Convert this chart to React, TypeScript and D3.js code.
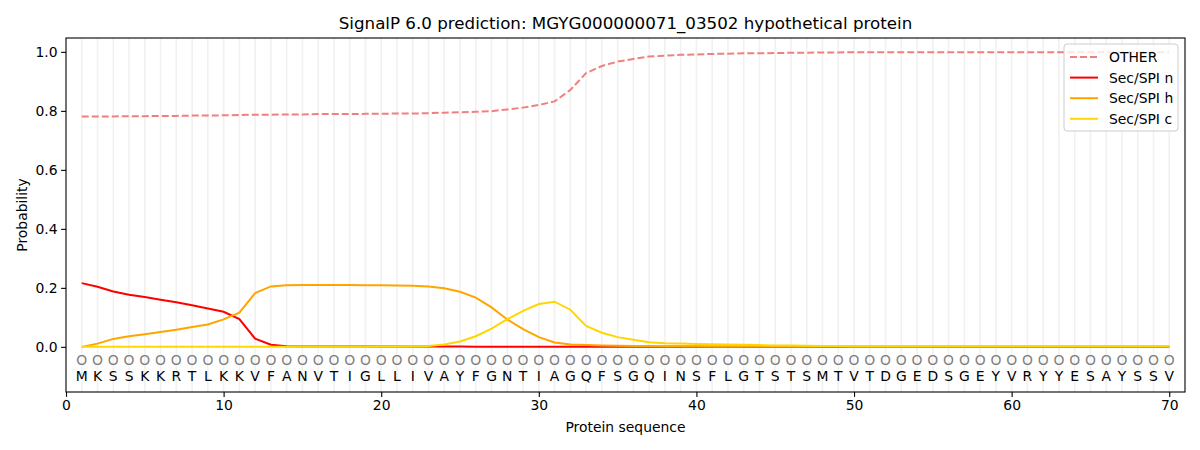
import React, { useEffect, useRef } from 'react';
import * as d3 from 'd3';

const residues = 'MKSSKKRTLKKVFANVTIGLLIVAYFGNTIAGQFSGQINSFLGTSTSMTVTDGEDSGEYVRYYESAYSSV'.split('');

const otherProb = [
  0.781, 0.781, 0.781, 0.782, 0.782, 0.783, 0.783, 0.784, 0.784, 0.785,
  0.786, 0.787, 0.787, 0.788, 0.788, 0.789, 0.789, 0.789, 0.790, 0.790,
  0.791, 0.791, 0.792, 0.794, 0.795, 0.797, 0.799, 0.805, 0.811, 0.820,
  0.832, 0.871, 0.928, 0.952, 0.967, 0.976, 0.984, 0.987, 0.990, 0.991,
  0.993, 0.994, 0.995, 0.995, 0.996, 0.997, 0.997, 0.998, 0.998, 0.999,
  0.999, 0.999, 0.999, 0.999, 0.999, 0.999, 0.999, 0.999, 0.999, 0.999,
  0.999, 0.999, 0.999, 0.999, 0.999, 0.999, 0.999, 0.999, 0.999, 0.999,
];

const secN = [
  0.216, 0.204, 0.188, 0.177, 0.169, 0.160, 0.151, 0.141, 0.130, 0.119,
  0.094, 0.028, 0.007, 0.002, 0.001, 0.001, 0.001, 0.001, 0.001, 0.001,
  0.001, 0.001, 0.001, 0.001, 0.001, 0.000, 0.000, 0.000, 0.000, 0.000,
  0.000, 0.000, 0.000, 0.000, 0.000, 0.000, 0.000, 0.000, 0.000, 0.000,
  0.000, 0.000, 0.000, 0.000, 0.000, 0.000, 0.000, 0.000, 0.000, 0.000,
  0.000, 0.000, 0.000, 0.000, 0.000, 0.000, 0.000, 0.000, 0.000, 0.000,
  0.000, 0.000, 0.000, 0.000, 0.000, 0.000, 0.000, 0.000, 0.000, 0.000,
];

const secH = [
  0.000, 0.011, 0.027, 0.036, 0.043, 0.050, 0.058, 0.067, 0.076, 0.093,
  0.116, 0.182, 0.205, 0.209, 0.210, 0.210, 0.210, 0.210, 0.209, 0.209,
  0.208, 0.207, 0.205, 0.199, 0.187, 0.167, 0.134, 0.093, 0.060, 0.033,
  0.015, 0.008, 0.006, 0.005, 0.004, 0.003, 0.003, 0.002, 0.002, 0.002,
  0.001, 0.001, 0.001, 0.001, 0.001, 0.001, 0.001, 0.001, 0.001, 0.001,
  0.001, 0.001, 0.001, 0.001, 0.001, 0.001, 0.001, 0.001, 0.001, 0.001,
  0.001, 0.001, 0.001, 0.001, 0.001, 0.001, 0.001, 0.001, 0.001, 0.001,
];

const secC = [
  0.000, 0.000, 0.000, 0.000, 0.000, 0.000, 0.000, 0.000, 0.000, 0.000,
  0.000, 0.000, 0.000, 0.000, 0.000, 0.000, 0.000, 0.000, 0.000, 0.001,
  0.001, 0.002, 0.003, 0.008, 0.018, 0.036, 0.062, 0.094, 0.122, 0.145,
  0.153, 0.126, 0.071, 0.048, 0.033, 0.024, 0.016, 0.012, 0.011, 0.010,
  0.009, 0.008, 0.007, 0.006, 0.005, 0.005, 0.004, 0.003, 0.003, 0.002,
  0.002, 0.002, 0.002, 0.002, 0.002, 0.002, 0.002, 0.002, 0.002, 0.002,
  0.002, 0.002, 0.002, 0.002, 0.002, 0.002, 0.002, 0.002, 0.002, 0.002,
];

const xTicks = [0, 10, 20, 30, 40, 50, 60, 70];
const yTicks = [0, 0.2, 0.4, 0.6, 0.8, 1.0];

const series = [
  { label: 'OTHER', values: otherProb, color: '#f08080', dash: '7,3' },
  { label: 'Sec/SPI n', values: secN, color: '#ff0000', dash: null },
  { label: 'Sec/SPI h', values: secH, color: '#ffa500', dash: null },
  { label: 'Sec/SPI c', values: secC, color: '#ffd700', dash: null },
];

const FONT = '"DejaVu Sans", sans-serif';

export default function App() {
  const svgRef = useRef<SVGSVGElement>(null);
  const width = 1200;
  const height = 450;

  useEffect(() => {
    const svg = d3.select(svgRef.current);
    svg.selectAll('*').remove();

    const margin = { top: 38, right: 15, bottom: 58, left: 66 };
    const innerWidth = width - margin.left - margin.right;
    const innerHeight = height - margin.top - margin.bottom;

    svg.append('rect').attr('width', width).attr('height', height).attr('fill', '#fff');

    const g = svg.append('g').attr('transform', `translate(${margin.left},${margin.top})`);

    const xScale = d3.scaleLinear().domain([0, 71]).range([0, innerWidth]);
    const yScale = d3.scaleLinear().domain([-0.153, 1.047]).range([innerHeight, 0]);

    // Vertical grid at each residue
    g.selectAll('.grid-x')
      .data(residues)
      .enter()
      .append('line')
      .attr('x1', (d, i) => xScale(i + 1))
      .attr('x2', (d, i) => xScale(i + 1))
      .attr('y1', 0)
      .attr('y2', innerHeight)
      .style('stroke', '#f1f1f1')
      .style('stroke-width', 1.6);

    // Lines
    const line = d3
      .line<number>()
      .x((d, i) => xScale(i + 1))
      .y(d => yScale(d));

    series.forEach(s => {
      g.append('path')
        .datum(s.values)
        .attr('d', line)
        .style('fill', 'none')
        .style('stroke', s.color)
        .style('stroke-width', 2)
        .style('stroke-dasharray', s.dash ?? 'none');
    });

    // Residue markers and letters
    g.selectAll('.res-o')
      .data(residues)
      .enter()
      .append('text')
      .attr('x', (d, i) => xScale(i + 1))
      .attr('y', yScale(-0.045))
      .attr('dy', '0.36em')
      .attr('text-anchor', 'middle')
      .style('font-family', FONT)
      .style('font-size', '13.9px')
      .style('fill', '#808080')
      .text('O');

    g.selectAll('.res-letter')
      .data(residues)
      .enter()
      .append('text')
      .attr('x', (d, i) => xScale(i + 1))
      .attr('y', yScale(-0.1))
      .attr('dy', '0.36em')
      .attr('text-anchor', 'middle')
      .style('font-family', FONT)
      .style('font-size', '13.9px')
      .style('fill', '#000')
      .text(d => d);

    // Axes frame
    g.append('rect')
      .attr('width', innerWidth)
      .attr('height', innerHeight)
      .style('fill', 'none')
      .style('stroke', '#000')
      .style('stroke-width', 1.1);

    const xAxis = g
      .append('g')
      .attr('transform', `translate(0,${innerHeight})`)
      .call(d3.axisBottom(xScale).tickValues(xTicks).tickSize(4.9).tickPadding(3.5).tickFormat(d3.format('d')));
    xAxis.select('.domain').remove();
    xAxis.selectAll('line').style('stroke-width', 1.1);
    xAxis.selectAll('text').style('font-size', '13.9px').style('font-family', FONT).style('fill', '#000');

    const yAxis = g
      .append('g')
      .call(d3.axisLeft(yScale).tickValues(yTicks).tickSize(4.9).tickPadding(3.5).tickFormat(d3.format('.1f')));
    yAxis.select('.domain').remove();
    yAxis.selectAll('line').style('stroke-width', 1.1);
    yAxis.selectAll('text').style('font-size', '13.9px').style('font-family', FONT).style('fill', '#000');

    // Labels
    svg.append('text')
      .attr('x', margin.left + innerWidth / 2)
      .attr('y', 29)
      .attr('text-anchor', 'middle')
      .style('font-family', FONT)
      .style('font-size', '16.7px')
      .text('SignalP 6.0 prediction: MGYG000000071_03502 hypothetical protein');

    svg.append('text')
      .attr('x', margin.left + innerWidth / 2)
      .attr('y', 432)
      .attr('text-anchor', 'middle')
      .style('font-family', FONT)
      .style('font-size', '13.9px')
      .text('Protein sequence');

    svg.append('text')
      .attr('transform', `translate(27,${margin.top + innerHeight / 2}) rotate(-90)`)
      .attr('text-anchor', 'middle')
      .style('font-family', FONT)
      .style('font-size', '13.9px')
      .text('Probability');

    // Legend
    const legend = svg.append('g').attr('transform', `translate(${width - margin.right - 121},${margin.top + 6})`);
    legend.append('rect')
      .attr('width', 114)
      .attr('height', 87)
      .attr('rx', 3)
      .style('fill', 'rgba(255,255,255,0.8)')
      .style('stroke', '#cccccc')
      .style('stroke-width', 1);

    legend.selectAll('.legend-item')
      .data(series)
      .enter()
      .append('g')
      .attr('transform', (d, i) => `translate(0, ${13 + i * 20.6})`)
      .each(function (d) {
        const item = d3.select(this);
        item.append('line')
          .attr('x1', 6)
          .attr('x2', 34)
          .attr('y1', 0)
          .attr('y2', 0)
          .style('stroke', d.color)
          .style('stroke-width', 2)
          .style('stroke-dasharray', d.dash ?? 'none');
        item.append('text')
          .attr('x', 45)
          .attr('y', 0)
          .attr('dy', '0.36em')
          .style('font-family', FONT)
          .style('font-size', '13.9px')
          .style('fill', '#000')
          .text(d.label);
      });
  }, []);

  return (
    <svg
      ref={svgRef}
      width={width}
      height={height}
      style={{ position: 'absolute', left: 0, top: 0, display: 'block' }}
    />
  );
}
